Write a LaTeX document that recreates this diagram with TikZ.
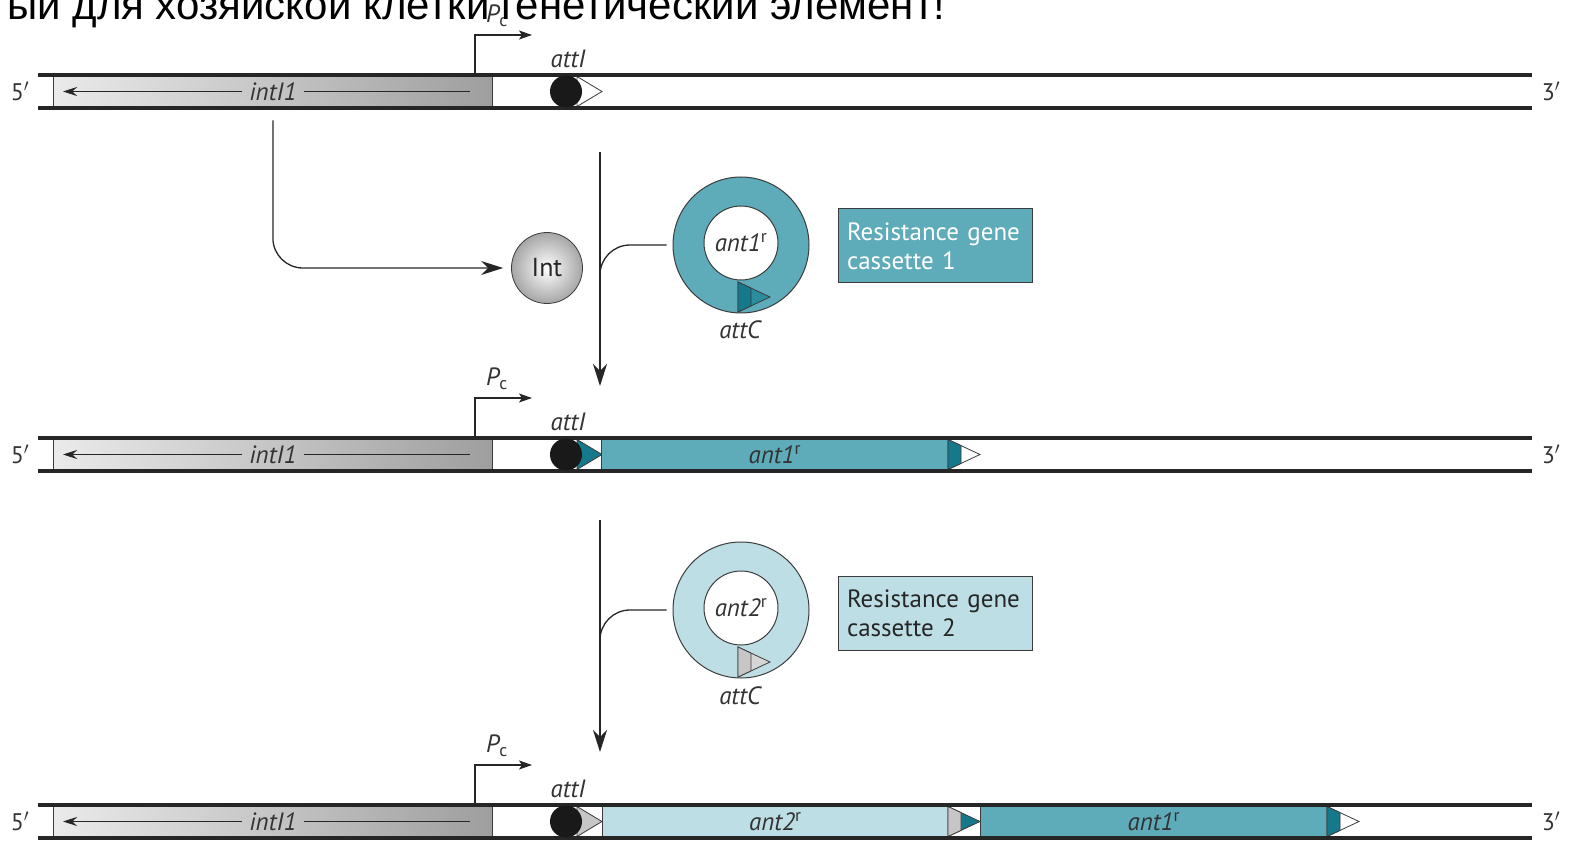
\documentclass[tikz,border=0pt]{standalone}
\usepackage{fontspec}
\setmainfont{PT Sans}
\newfontfamily\titlefont{Liberation Sans}
\usetikzlibrary{arrows.meta}

\definecolor{cassone}{RGB}{94,171,186}
\definecolor{attone}{RGB}{22,121,139}
\definecolor{attonetip}{RGB}{42,141,157}
\definecolor{casstwo}{RGB}{190,222,230}
\definecolor{atttwo}{RGB}{198,198,198}
\definecolor{atttwotip}{RGB}{214,214,214}
\definecolor{edge}{RGB}{60,60,60}

\tikzset{
  strand/.style={line width=3.2pt, black!85},
  genebox/.style={draw=edge, line width=0.8pt, minimum height=33pt, inner sep=0pt, anchor=west,
    font=\fontsize{25}{28}\selectfont\itshape, text=black!80},
  lbl/.style={font=\fontsize{25}{28}\selectfont\itshape, text=black!80, inner sep=1pt},
  thinarrow/.style={line width=1.3pt, black!85, -{Stealth[length=22pt,width=14pt,inset=7pt]}},
  promoter/.style={line width=1.3pt, black!85, -{Stealth[length=13pt,width=9pt,inset=3pt]}},
  ringbox/.style={draw=edge, line width=1pt, minimum width=194pt, minimum height=74pt,
    text width=176pt, align=left, font=\fontsize{25}{29}\selectfont},
}

% attC site: x, mid y, base colour, tip colour
\newcommand{\attsite}[4]{%
  \filldraw[draw=edge, line width=0.8pt, fill=#4] (#1,{#2-15}) -- ({#1+32},#2) -- (#1,{#2+15}) -- cycle;
  \filldraw[draw=edge, line width=0.8pt, fill=#3] (#1,{#2-15}) -- ({#1+13},{#2-8.9})
    -- ({#1+13},{#2+8.9}) -- (#1,{#2+15}) -- cycle;
}

\begin{document}
\begin{tikzpicture}[x=1pt,y=-1pt]
  \useasboundingbox (0,0) rectangle (1569,842);
  \clip (0,0) rectangle (1569,842);

  % the three integron strands
  \foreach \y/\r/\t in {91.5/a/white, 454.5/b/attone, 821.5/c/atttwo}{
    \node[genebox, left color=black!8, right color=black!38, minimum width=439pt] (intbox\r) at (53,\y) {};
    \node[lbl, inner sep=7pt] (intlbl\r) at (intbox\r.center) {intI1};
    \draw[line width=1pt, black!85, -{Stealth[length=14pt,width=9pt]}] (intlbl\r.west) -- (63,\y);
    \draw[line width=1pt, black!85] (intlbl\r.east) -- (470,\y);
    \coordinate (pc\r) at (475,\y-16.5);
    \draw[promoter] (pc\r) -- ++(0,-40) -- ++(57,0);
    \node[lbl] (pclbl\r) at (497,\y-76) {P\textsubscript{\upshape c}};
    \node[lbl] (attlbl\r) at (568,\y-33) {attI};
    \filldraw[draw=edge, line width=0.8pt, fill=\t] (577,\y-15) -- (602,\y) -- (577,\y+15) -- cycle;
    \node[lbl, font=\fontsize{24}{26}\selectfont] (five\r) at (20,\y) {5$'$};
    \node[lbl, font=\fontsize{24}{26}\selectfont] (three\r) at (1551,\y) {3$'$};
  }

  % inserted cassettes
  \node[genebox, fill=cassone, minimum width=347pt] (antoneb) at (601,454.5) {ant1\textsuperscript{\upshape r}};
  \attsite{948}{454.5}{attone}{white}
  \node[genebox, fill=casstwo, minimum width=346pt] (anttwoc) at (602,821.5) {ant2\textsuperscript{\upshape r}};
  \attsite{948}{821.5}{atttwo}{attone}
  \node[genebox, fill=cassone, minimum width=347pt] (antonec) at (980,821.5) {ant1\textsuperscript{\upshape r}};
  \attsite{1327}{821.5}{attone}{white}

  \foreach \y/\r in {91.5/a, 454.5/b, 821.5/c}{
    \draw[strand] (38,\y-16.5) -- (1532,\y-16.5);
    \draw[strand] (38,\y+16.5) -- (1532,\y+16.5);
    \node[circle, fill=black!90, minimum size=32pt, inner sep=0pt] (attI\r) at (566,\y) {};
  }

  % integrase
  \node[circle, draw=edge, line width=0.8pt, inner color=white, outer color=black!35, minimum size=71pt,
    font=\fontsize{26}{28}\selectfont, text=black!85] (int) at (547,268) {Int};
  \draw[thinarrow, rounded corners=30pt, shorten <=12pt, shorten >=8pt] (intboxa.south) |- (int.west);

  % cassette 1
  \coordinate (downa) at (600,152);
  \coordinate (downae) at (600,386);
  \coordinate (joina) at (600,300);
  \draw[thinarrow] (downa) -- (downae);
  \node[circle, draw=edge, line width=1pt, fill=cassone, minimum size=136pt] (ringone) at (741,245) {};
  \node[circle, draw=edge, line width=1pt, fill=white, minimum size=74pt, lbl] (coreone) at (741,243)
    {ant1\textsuperscript{\upshape r}};
  \attsite{738}{297}{attone}{attonetip}
  \node[lbl] (attcone) at (740,330) {attC};
  \draw[line width=1.3pt, black!85, rounded corners=30pt, shorten <=6pt] (ringone.west) -| (joina);
  \node[ringbox, fill=cassone, text=white] (boxone) at (935,246) {Resistance gene\\cassette 1};

  % cassette 2
  \coordinate (downb) at (600,520);
  \coordinate (downbe) at (600,752);
  \coordinate (joinb) at (600,668);
  \draw[thinarrow] (downb) -- (downbe);
  \node[circle, draw=edge, line width=1pt, fill=casstwo, minimum size=136pt] (ringtwo) at (741,610) {};
  \node[circle, draw=edge, line width=1pt, fill=white, minimum size=74pt, lbl] (coretwo) at (741,608)
    {ant2\textsuperscript{\upshape r}};
  \attsite{738}{662}{atttwo}{atttwotip}
  \node[lbl] (attctwo) at (740,696) {attC};
  \draw[line width=1.3pt, black!85, rounded corners=30pt, shorten <=6pt] (ringtwo.west) -| (joinb);
  \node[ringbox, fill=casstwo, text=black!85] (boxtwo) at (935,613.5) {Resistance gene\\cassette 2};

  \node[anchor=base east, inner sep=0pt, font=\titlefont\fontsize{42}{44}\selectfont] (title) at (945,20)
    {ый для хозяйской клетки генетический элемент!};
\end{tikzpicture}
\end{document}
